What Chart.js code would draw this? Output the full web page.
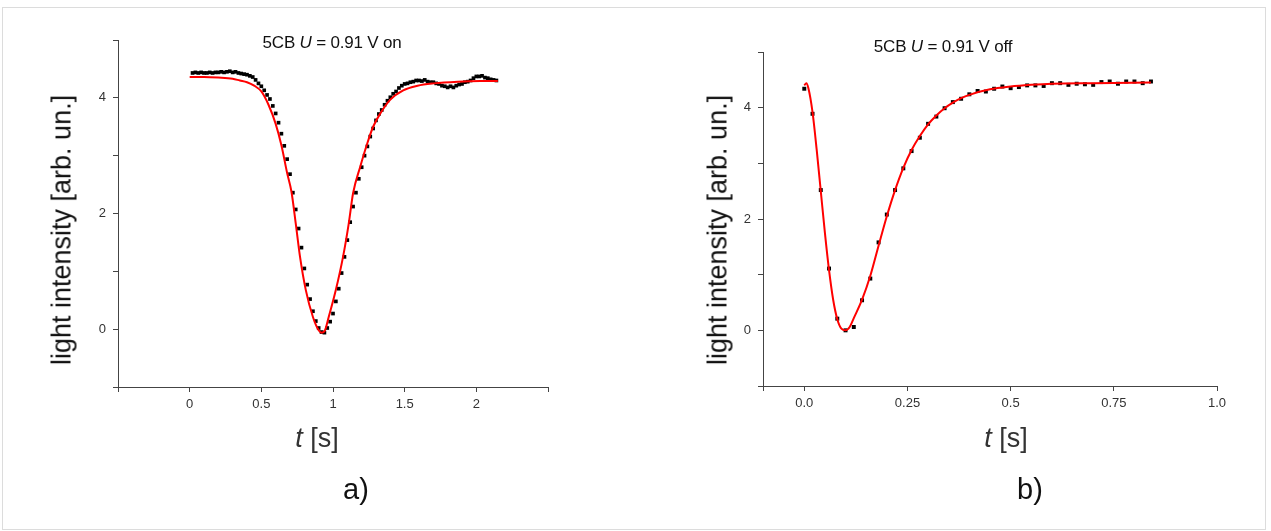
<!DOCTYPE html>
<html>
<head>
<meta charset="utf-8">
<script src="https://cdn.jsdelivr.net/npm/chart.js@4/dist/chart.umd.min.js"></script>
<style>
  body { margin: 0; background: #fff; font-family: "Liberation Sans", Arial, sans-serif; }
  #page { position: relative; width: 1271px; height: 531px; overflow: hidden; }
  #frame { position: absolute; left: 2px; top: 7px; width: 1264px; height: 523px; border: 1px solid #dcdcdc; box-sizing: border-box; }
  canvas { position: absolute; top: 0; }
  .lbl { position: absolute; color: #111; white-space: nowrap; transform: translate(-50%, -50%); }
  .title { font-size: 17px; letter-spacing: -0.2px; }
  .xt { font-size: 27px; color: #333; }
  .yt { font-size: 27px; color: #111; transform: translate(-50%, -50%) rotate(-90deg); }
  .panel { font-size: 29px; }
</style>
</head>
<body>
<div id="page">
  <div id="frame"></div>
  <canvas id="onChart" width="620" height="531" style="left:0"></canvas>
  <canvas id="offChart" width="631" height="531" style="left:640px"></canvas>

  <div class="lbl title" style="left:332px;top:43px">5CB <i>U</i> = 0.91 V on</div>
  <div class="lbl title" style="left:943px;top:47px">5CB <i>U</i> = 0.91 V off</div>
  <div class="lbl yt" style="left:62px;top:230px">light intensity [arb. un.]</div>
  <div class="lbl yt" style="left:718px;top:230px">light intensity [arb. un.]</div>
  <div class="lbl xt" style="left:317px;top:438px"><i>t</i> [s]</div>
  <div class="lbl xt" style="left:1006px;top:438px"><i>t</i> [s]</div>
  <div class="lbl panel" style="left:356px;top:489px">a)</div>
  <div class="lbl panel" style="left:1030px;top:489px">b)</div>
</div>

<script>
// panel a) switching on, measured points
const onTime = [0.02, 0.04, 0.06, 0.08, 0.10, 0.12, 0.14, 0.16, 0.18, 0.20,
  0.22, 0.24, 0.26, 0.28, 0.30, 0.32, 0.34, 0.36, 0.38, 0.40,
  0.42, 0.44, 0.46, 0.48, 0.50, 0.52, 0.54, 0.56, 0.58, 0.60,
  0.62, 0.64, 0.66, 0.68, 0.70, 0.72, 0.74, 0.76, 0.78, 0.80,
  0.82, 0.84, 0.86, 0.88, 0.90, 0.92, 0.94, 0.96, 0.98, 1.00,
  1.02, 1.04, 1.06, 1.08, 1.10, 1.12, 1.14, 1.16, 1.18, 1.20,
  1.22, 1.24, 1.26, 1.28, 1.30, 1.32, 1.34, 1.36, 1.38, 1.40,
  1.42, 1.44, 1.46, 1.48, 1.50, 1.52, 1.54, 1.56, 1.58, 1.60,
  1.62, 1.64, 1.66, 1.68, 1.70, 1.72, 1.74, 1.76, 1.78, 1.80,
  1.82, 1.84, 1.86, 1.88, 1.90, 1.92, 1.94, 1.96, 1.98, 2.00,
  2.02, 2.04, 2.06, 2.08, 2.10, 2.12, 2.14];
const onIntensity = [4.43, 4.44, 4.43, 4.44, 4.43, 4.43, 4.44, 4.43, 4.44, 4.44,
  4.45, 4.44, 4.45, 4.46, 4.44, 4.45, 4.43, 4.42, 4.41, 4.40,
  4.38, 4.36, 4.31, 4.25, 4.20, 4.13, 4.05, 3.98, 3.86, 3.73,
  3.57, 3.38, 3.17, 2.94, 2.68, 2.36, 2.07, 1.74, 1.41, 1.05,
  0.77, 0.52, 0.31, 0.14, 0.02, -0.05, -0.06, 0.02, 0.13, 0.27,
  0.48, 0.70, 0.97, 1.25, 1.54, 1.85, 2.12, 2.36, 2.60, 2.80,
  3.00, 3.16, 3.33, 3.47, 3.61, 3.72, 3.79, 3.88, 3.95, 4.01,
  4.07, 4.11, 4.17, 4.21, 4.24, 4.25, 4.27, 4.28, 4.30, 4.30,
  4.29, 4.31, 4.28, 4.27, 4.27, 4.25, 4.24, 4.21, 4.20, 4.18,
  4.20, 4.18, 4.21, 4.23, 4.24, 4.27, 4.28, 4.30, 4.34, 4.37,
  4.37, 4.38, 4.35, 4.34, 4.32, 4.31, 4.30];

// panel a) fit curve
const onFitTime = [0, 0.10, 0.20, 0.30, 0.35, 0.40, 0.45, 0.50, 0.55, 0.60,
  0.64, 0.68, 0.71, 0.74, 0.77, 0.81, 0.86, 0.90, 0.92, 0.94,
  0.97, 1.02, 1.07, 1.11, 1.14, 1.19, 1.24, 1.28, 1.33, 1.40,
  1.49, 1.59, 1.70, 1.87, 2.03, 2.15];
const onFitValue = [4.36, 4.36, 4.35, 4.33, 4.30, 4.27, 4.21, 4.11, 3.88, 3.55,
  3.18, 2.70, 2.38, 1.83, 1.25, 0.68, 0.21, -0.02, -0.06, -0.04,
  0.21, 0.68, 1.25, 1.83, 2.35, 2.81, 3.22, 3.50, 3.73, 3.97,
  4.13, 4.21, 4.25, 4.28, 4.29, 4.29];

// panel b) switching off, measured points
const offTime = [0.00, 0.02, 0.04, 0.06, 0.08, 0.10, 0.12, 0.14, 0.16, 0.18,
  0.20, 0.22, 0.24, 0.26, 0.28, 0.30, 0.32, 0.34, 0.36, 0.38,
  0.40, 0.42, 0.44, 0.46, 0.48, 0.50, 0.52, 0.54, 0.56, 0.58,
  0.60, 0.62, 0.64, 0.66, 0.68, 0.70, 0.72, 0.74, 0.76, 0.78,
  0.80, 0.82, 0.84];
const offIntensity = [4.34, 3.89, 2.52, 1.11, 0.21, 0.00, 0.06, 0.54, 0.93, 1.58,
  2.08, 2.52, 2.91, 3.22, 3.46, 3.71, 3.84, 3.99, 4.10, 4.16,
  4.24, 4.30, 4.29, 4.34, 4.38, 4.35, 4.37, 4.40, 4.40, 4.39,
  4.44, 4.44, 4.41, 4.43, 4.42, 4.41, 4.46, 4.47, 4.43, 4.47,
  4.47, 4.44, 4.47];

// panel b) fit curve
const offFitTime = [0, 0.005, 0.01, 0.02, 0.03, 0.04, 0.05, 0.06, 0.07, 0.08,
  0.09, 0.10, 0.11, 0.12, 0.14, 0.16, 0.18, 0.20, 0.22, 0.24,
  0.26, 0.28, 0.30, 0.32, 0.34, 0.36, 0.38, 0.40, 0.45, 0.50,
  0.55, 0.60, 0.70, 0.84];
const offFitValue = [4.40, 4.44, 4.35, 3.92, 3.25, 2.50, 1.75, 1.08, 0.55, 0.20,
  0.03, 0.00, 0.06, 0.22, 0.55, 0.98, 1.52, 2.05, 2.52, 2.92,
  3.24, 3.49, 3.70, 3.86, 3.99, 4.09, 4.17, 4.23, 4.33, 4.38,
  4.41, 4.43, 4.44, 4.45];

// axis ticks
const yTicks = [-1, 0, 1, 2, 3, 4, 5];
const yTickLabels = ['', '0', '', '2', '', '4', ''];
const onXTicks = [-0.5, 0, 0.5, 1, 1.5, 2, 2.5];
const onXTickLabels = ['', '0', '0.5', '1', '1.5', '2', ''];
const offXTicks = [-0.1, 0, 0.25, 0.5, 0.75, 1.0];
const offXTickLabels = ['', '0.0', '0.25', '0.5', '0.75', '1.0'];

const toPoints = (xs, ys) => xs.map((x, i) => ({ x: x, y: ys[i] }));

const axisColor = '#444';
const tickFont = { family: '"Liberation Sans", Arial, sans-serif', size: 13 };

const makeAxis = (min, max, ticks, labels, isY) => ({
  type: 'linear',
  min: min,
  max: max,
  afterBuildTicks: (scale) => { scale.ticks = ticks.map(v => ({ value: v })); },
  afterFit: (scale) => { if (isY) scale.width = 30; else scale.height = 30; },
  ticks: {
    autoSkip: false,
    maxRotation: 0,
    padding: isY ? 7 : 5,
    color: '#333',
    font: tickFont,
    callback: (value, index) => labels[index],
  },
  grid: {
    display: true,
    drawOnChartArea: false,
    drawTicks: true,
    tickLength: 5,
    tickColor: axisColor,
    tickWidth: 1,
  },
  border: { display: true, color: axisColor, width: 1 },
});

const makeChart = (id, padding, pts, fit, xAxis, pointRadius) => {
  const ctx = document.getElementById(id).getContext('2d');
  return new Chart(ctx, {
    type: 'scatter',
    data: {
      datasets: [
        {
          label: 'fit',
          data: fit,
          showLine: true,
          borderColor: '#ff0000',
          borderWidth: 2,
          pointRadius: 0,
          cubicInterpolationMode: 'monotone',
          fill: false,
        },
        {
          label: 'data',
          data: pts,
          pointStyle: 'rect',
          pointRadius: pointRadius,
          backgroundColor: '#000',
          borderColor: '#000',
          borderWidth: 0,
          showLine: false,
        },
      ],
    },
    options: {
      responsive: false,
      animation: false,
      devicePixelRatio: 1,
      layout: { padding: padding },
      plugins: { legend: { display: false }, tooltip: { enabled: false } },
      scales: {
        x: xAxis,
        y: makeAxis(-1, 5, yTicks, yTickLabels, true),
      },
    },
  });
};

makeChart('onChart', { left: 88, right: 72, top: 40, bottom: 114 },
  toPoints(onTime, onIntensity), toPoints(onFitTime, onFitValue),
  makeAxis(-0.5, 2.5, onXTicks, onXTickLabels, false), 2.6);

makeChart('offChart', { left: 93, right: 54, top: 52, bottom: 115 },
  toPoints(offTime, offIntensity), toPoints(offFitTime, offFitValue),
  makeAxis(-0.1, 1.0, offXTicks, offXTickLabels, false), 2.8);
</script>
</body>
</html>
